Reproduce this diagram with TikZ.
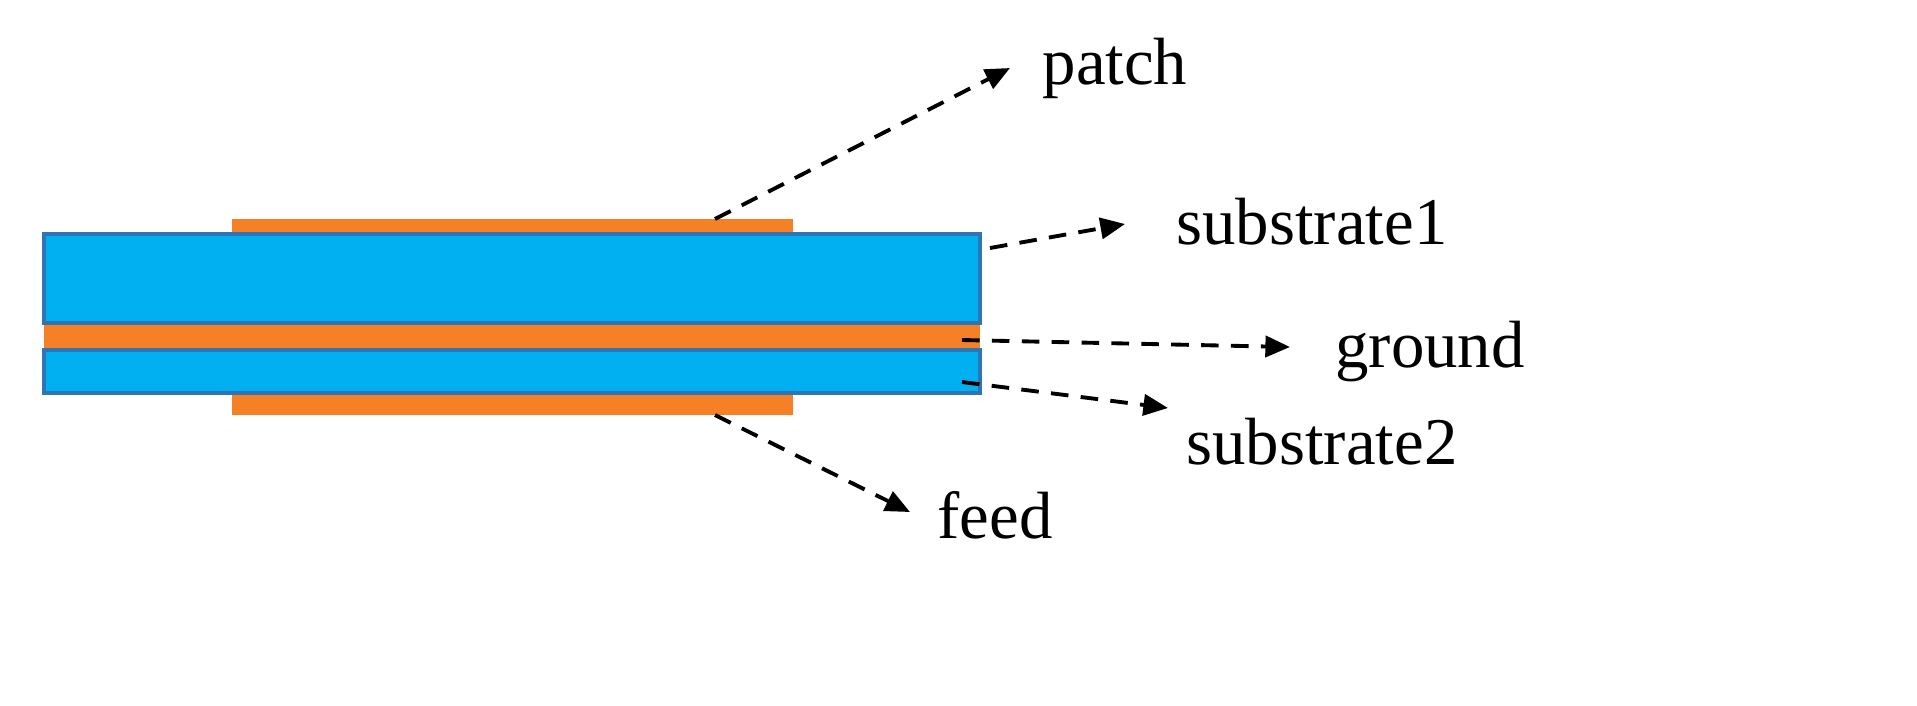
\documentclass[tikz,border=0pt]{standalone}
\usepackage{fontspec}
\setmainfont{Liberation Serif}
\usetikzlibrary{arrows.meta}
\definecolor{sub}{HTML}{00B0F0}
\definecolor{cu}{HTML}{F58025}
\definecolor{edge}{HTML}{2E75B6}
\begin{document}
\begin{tikzpicture}[x=0.01cm,y=-0.01cm,
  lbl/.style={font=\fontsize{19}{21}\selectfont,inner sep=0pt},
  arr/.style={dash pattern=on 5pt off 3.5pt,line width=1.1pt,-{Triangle[length=7pt,width=6pt]}}]
\useasboundingbox (0,0) rectangle (1917,705);
\fill[cu] (232,219) rectangle (793,234);
\fill[cu] (232,393) rectangle (793,415);
\fill[cu] (44,323) rectangle (980,350);
\draw[edge,fill=sub,line width=1.2pt] (44,234) rectangle (980,323);
\draw[edge,fill=sub,line width=1.2pt] (44,350) rectangle (980,393);
\coordinate (p0) at (715,219); \coordinate (p1) at (1010,68);
\coordinate (s0) at (990,248); \coordinate (s1) at (1125,224);
\coordinate (g0) at (962,340); \coordinate (g1) at (1290,347);
\coordinate (t0) at (962,382); \coordinate (t1) at (1168,408);
\coordinate (f0) at (715,415); \coordinate (f1) at (910,512);
\node[lbl] (np) at (1115,68) {patch};
\node[lbl] (ns) at (1312,222) {substrate1};
\node[lbl] (ng) at (1430,352) {ground};
\node[lbl] (nt) at (1322,442) {substrate2};
\node[lbl] (nf) at (995,515) {feed};
\draw[arr] (p0) -- (p1);
\draw[arr] (s0) -- (s1);
\draw[arr] (g0) -- (g1);
\draw[arr] (t0) -- (t1);
\draw[arr] (f0) -- (f1);
\end{tikzpicture}
\end{document}
